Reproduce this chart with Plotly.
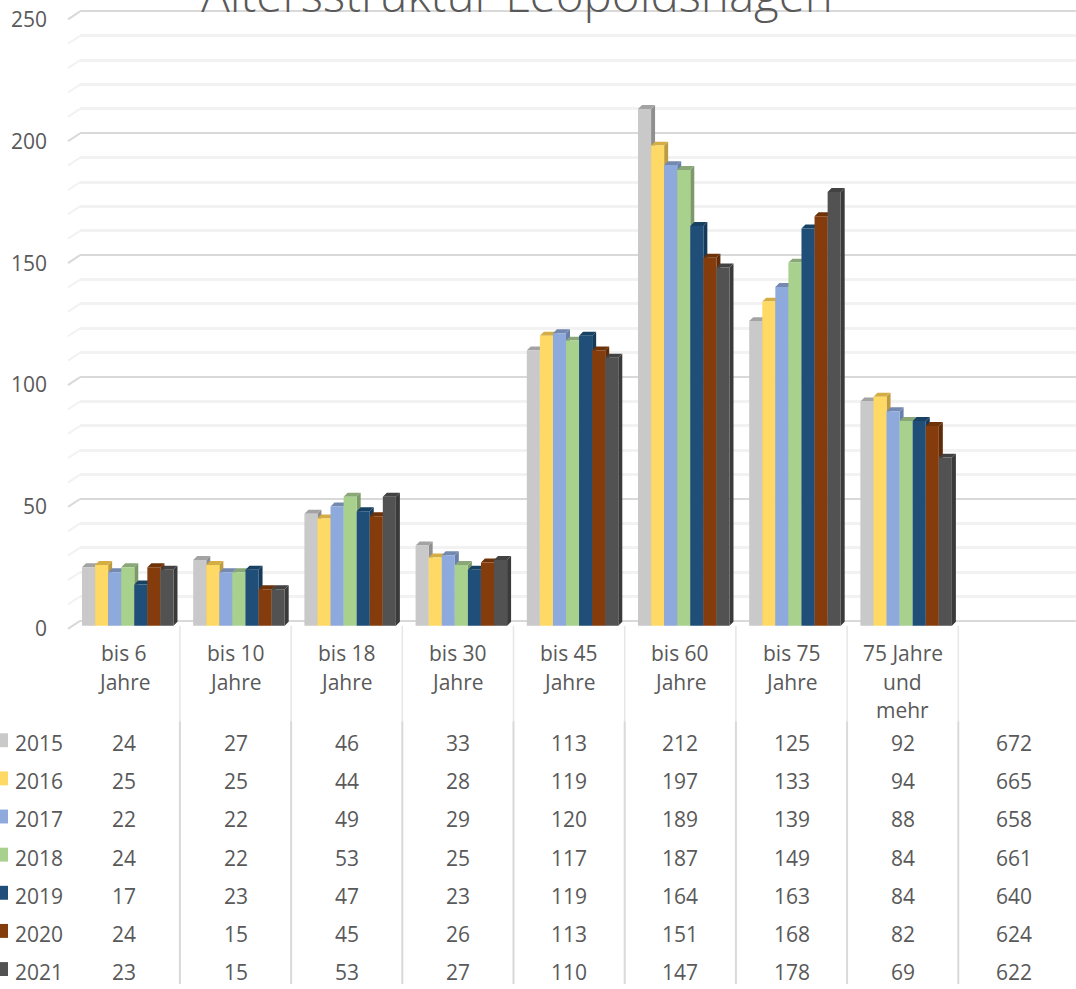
import plotly.graph_objects as go

W, H = 1076, 989
categories = ["bis 6<br>Jahre", "bis 10<br>Jahre", "bis 18<br>Jahre", "bis 30<br>Jahre", "bis 45<br>Jahre",
              "bis 60<br>Jahre", "bis 75<br>Jahre", "75 Jahre<br>und<br>mehr", ""]
years = ["2015", "2016", "2017", "2018", "2019", "2020", "2021"]
v2015 = [24, 27, 46, 33, 113, 212, 125, 92]
v2016 = [25, 25, 44, 28, 119, 197, 133, 94]
v2017 = [22, 22, 49, 29, 120, 189, 139, 88]
v2018 = [24, 22, 53, 25, 117, 187, 149, 84]
v2019 = [17, 23, 47, 23, 119, 164, 163, 84]
v2020 = [24, 15, 45, 26, 113, 151, 168, 82]
v2021 = [23, 15, 53, 27, 110, 147, 178, 69]
totals = [672, 665, 658, 661, 640, 624, 622]
series = [v2015, v2016, v2017, v2018, v2019, v2020, v2021]
front = ["#C9C9C9", "#FFD966", "#8EA9DB", "#A9D18E", "#1F4E79", "#843C0C", "#525252"]
side = ["#8F8F8F", "#BD9B3F", "#6A80A8", "#7C9A68", "#163A59", "#612B08", "#3A3A3A"]
cap = ["#A3A3A3", "#D4AD45", "#7488B0", "#8AA877", "#184263", "#6E3209", "#424242"]
y_ticks = [0, 50, 100, 150, 200, 250]
minor_ticks = [v for v in range(10, 250, 10) if v % 50]

TEXT = "#595959"
FONT = "Open Sans"
FS = 21
CW = 111.2            # px per category
PX_U = 2.45           # px per value unit
BAR = 13.07           # bar px width
CX0 = 124.3           # px of first category centre
BACK0 = 624           # px of value 0 on back wall
FRONT0 = 629          # px of value 0 at bar front
PLOT_BOTTOM = 640
D = 4.0               # 3-D depth in px


def ux(px):
    return (px - CX0) / CW


def py(px):
    return 1 - px / H


dx = D / CW
dy = D / PX_U
shift = (FRONT0 - BACK0) / PX_U
x_pos = list(range(len(categories)))

fig = go.Figure()
annotations = []
shapes = []

# wall side-lines
for v in sorted(y_ticks + minor_ticks):
    yb = BACK0 - PX_U * v
    shapes.append(dict(type="line", xref="paper", yref="paper", x0=68 / W, x1=80 / W, y0=py(yb + 8), y1=py(yb),
                       layer="below", line=dict(color="#D9D9D9" if v % 50 == 0 else "#F2F2F2", width=2)))

# 3-D sides and caps (on the base axes so that every bar front stays on top)
bw = BAR / CW
for s, vals in enumerate(series):
    off = (82 - CX0 + BAR * s) / CW
    xs, ys, xc, yc = [], [], [], []
    for c, v in enumerate(vals):
        l = c + off
        r = l + bw
        t = v - shift
        b = -shift
        xs += [r, r + dx, r + dx, r, r, None]
        ys += [b, b + dy, t + dy, t, b, None]
        xc += [l, l + dx, r + dx, r, l, None]
        yc += [t, t + dy, t + dy, t, t, None]
    fig.add_trace(go.Scatter(x=xs, y=ys, mode="lines", fill="toself", fillcolor=side[s], line=dict(width=0),
                             hoverinfo="skip", showlegend=False))
    fig.add_trace(go.Scatter(x=xc, y=yc, mode="lines", fill="toself", fillcolor=cap[s], line=dict(width=0),
                             hoverinfo="skip", showlegend=False))

# bar fronts
for s, vals in enumerate(series):
    fig.add_trace(go.Bar(x=x_pos[:len(vals)], y=vals, name=years[s], yaxis="y2", width=bw,
                         offset=(82 - CX0 + BAR * s) / CW, marker=dict(color=front[s], line=dict(width=0)),
                         showlegend=False))

# category labels, one annotation per line to keep the line pitch
for c, label in enumerate(categories):
    for i, line in enumerate(label.split("<br>")):
        if line:
            annotations.append(dict(x=c, xref="x", y=py(656 + 29 * i), yref="paper", text=line, showarrow=False,
                                    xanchor="center", yanchor="middle", font=dict(family=FONT, size=FS, color=TEXT)))

# data table
ROW0, ROWH = 747, 38.33
for s, year in enumerate(years):
    yc = ROW0 + ROWH * s
    annotations.append(dict(x=12.5 / W, xref="paper", y=py(yc), yref="paper", text=year, showarrow=False,
                            xanchor="left", yanchor="middle", font=dict(family=FONT, size=FS, color=TEXT)))
    shapes.append(dict(type="rect", xref="paper", yref="paper", x0=0, x1=8 / W, y0=py(yc + 4), y1=py(yc - 10),
                       fillcolor=front[s], line=dict(width=0)))
    row = [col for col in series[s]] + [totals[s]]
    for c, v in enumerate(row):
        annotations.append(dict(x=c, xref="x", y=py(yc), yref="paper", text=str(v), showarrow=False,
                                xanchor="center", yanchor="middle", font=dict(family=FONT, size=FS, color=TEXT)))

for c in range(len(categories) - 1):
    xb = c + 0.5
    shapes.append(dict(type="line", xref="x", yref="paper", x0=xb, x1=xb, y0=py(629), y1=py(725),
                       line=dict(color="#E6E6E6", width=1.5)))
    shapes.append(dict(type="line", xref="x", yref="paper", x0=xb, x1=xb, y0=py(725), y1=py(H),
                       line=dict(color="#D9D9D9", width=2)))

fig.update_layout(
    width=W, height=H, margin=dict(l=0, r=0, t=0, b=0), autosize=False,
    paper_bgcolor="white", plot_bgcolor="rgba(0,0,0,0)", barmode="overlay", showlegend=False,
    annotations=annotations, shapes=shapes,
    title=dict(text="Altersstruktur Leopoldshagen", x=517 / W, xanchor="center", xref="paper",
               y=1 - 12 / H, yanchor="bottom", yref="paper", pad=dict(t=0, b=0),
               font=dict(family=FONT, size=47.5, color=TEXT, weight=300)),
    xaxis=dict(domain=[80 / W, 1], range=[ux(80), ux(W)], showgrid=False, zeroline=False, showticklabels=False,
               ticks="", showline=False),
    yaxis=dict(domain=[1 - PLOT_BOTTOM / H, 1], range=[(BACK0 - PLOT_BOTTOM) / PX_U, BACK0 / PX_U],
               tickmode="array", tickvals=y_ticks, showticklabels=False, ticks="",
               showgrid=True, gridcolor="#D9D9D9", gridwidth=2, zeroline=False,
               minor=dict(tickmode="array", tickvals=minor_ticks, showgrid=True, gridcolor="#F2F2F2", gridwidth=2.5, ticks="")),
    yaxis2=dict(overlaying="y", side="left", range=[(FRONT0 - PLOT_BOTTOM) / PX_U, FRONT0 / PX_U],
                tickmode="array", tickvals=y_ticks, showgrid=False, zeroline=False, ticks="", showline=False,
                tickfont=dict(family=FONT, size=FS, color=TEXT), ticklabelstandoff=32, ticklabelshift=3),
)

fig.write_html("out.html", config={"displayModeBar": False},
               post_script="document.body.style.margin='0';document.body.style.overflow='hidden';")
